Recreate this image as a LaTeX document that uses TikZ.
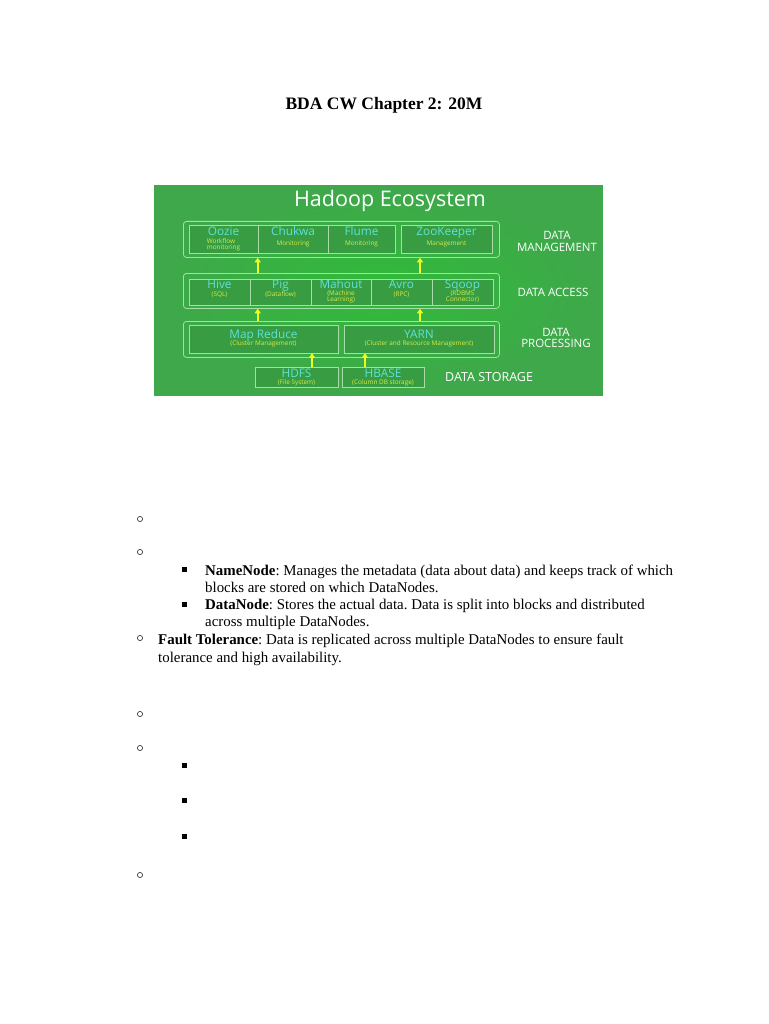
\documentclass[tikz,border=0pt]{standalone}
\usepackage{fontspec}
\setmainfont{Liberation Serif}
\newfontfamily\diagfont{Open Sans}
\usetikzlibrary{arrows.meta}
\definecolor{bggreen}{HTML}{3FA84B}
\definecolor{boxgreen}{HTML}{379C42}
\definecolor{edgegreen}{HTML}{A8DCA8}
\definecolor{namecyan}{HTML}{5FE3D6}
\definecolor{subyellow}{HTML}{DCEB45}
\definecolor{arrowyellow}{HTML}{F4FF1A}
\tikzset{
  outerbox/.style={draw=edgegreen, rounded corners=3pt, line width=0.8pt},
  innerbox/.style={draw=edgegreen, fill=boxgreen, line width=0.6pt, inner sep=0pt},
  nm/.style={text=namecyan, inner sep=0pt, anchor=base, font=\diagfont\fontsize{11.8}{12}\selectfont},
  sb/.style={text=subyellow, inner sep=0pt, align=center, font=\diagfont\fontsize{6.4}{5.8}\selectfont},
  yarrow/.style={draw=arrowyellow, line width=1.8pt, -{Triangle[width=6pt,length=4.5pt]}},
  layerlabel/.style={text=white, inner sep=0pt, font=\diagfont\fontsize{11.5}{11.5}\selectfont, align=center},
  body/.style={anchor=base west, inner sep=0pt, font=\frenchspacing\fontsize{14.9}{17}\selectfont},
  hollow/.style={draw=black!75, line width=0.7pt},
}
\begin{document}
\begin{tikzpicture}[x=1pt,y=-1pt]
\useasboundingbox (0,0) rectangle (768,1024);
\fill[white] (0,0) rectangle (768,1024);
% title
\node[font=\bfseries\fontsize{17.5}{20}\selectfont, anchor=base] (title) at (384,110) {BDA CW Chapter 2: 20M};
% green picture
\node[fill=bggreen, minimum width=449pt, minimum height=211pt, inner sep=0pt, anchor=north west] (pic) at (154,185) {};
\shade[inner color=green!45!bggreen, outer color=bggreen, opacity=0.5] (160,190) rectangle (598,390);
\node[text=white, font=\diagfont\fontsize{21.5}{24}\selectfont] (eco) at (390,201) {Hadoop Ecosystem};
% data management
\node[outerbox, minimum width=316pt, minimum height=36pt, anchor=north west] (mgmt) at (183,221) {};
\node[innerbox, minimum width=69pt, minimum height=28pt] (oozie) at (223.5,239) {};
\node[innerbox, minimum width=70pt, minimum height=28pt] (chukwa) at (293,239) {};
\node[innerbox, minimum width=67pt, minimum height=28pt] (flume) at (361.5,239) {};
\node[innerbox, minimum width=91pt, minimum height=28pt] (zoo) at (446.5,239) {};
\node[nm] (noozie) at ([yshift=3pt]oozie.center) {Oozie};
\node[sb, align=left] (soozie) at ([yshift=-5.5pt]oozie.center) {Workflow\\monitoring};
\node[nm] (nchukwa) at ([yshift=3pt]chukwa.center) {Chukwa};
\node[sb] (schukwa) at ([yshift=-4.5pt]chukwa.center) {Monitoring};
\node[nm] (nflume) at ([yshift=3pt]flume.center) {Flume};
\node[sb] (sflume) at ([yshift=-4.5pt]flume.center) {Monitoring};
\node[nm] (nzoo) at ([yshift=3pt]zoo.center) {ZooKeeper};
\node[sb] (szoo) at ([yshift=-4.5pt]zoo.center) {Management};
\node[layerlabel] (lmgmt) at (557,241.5) {DATA\\MANAGEMENT};
% data access
\node[outerbox, minimum width=316pt, minimum height=35pt, anchor=north west] (access) at (183,273) {};
\node[innerbox, minimum width=61pt, minimum height=26pt] (hive) at (219.5,292) {};
\node[innerbox, minimum width=61pt, minimum height=26pt] (pig) at (280.5,292) {};
\node[innerbox, minimum width=60pt, minimum height=26pt] (mahout) at (341,292) {};
\node[innerbox, minimum width=61pt, minimum height=26pt] (avro) at (401.5,292) {};
\node[innerbox, minimum width=61pt, minimum height=26pt] (sqoop) at (462.5,292) {};
\node[nm] (nhive) at ([yshift=4pt]hive.center) {Hive};
\node[sb] (shive) at ([yshift=-3pt]hive.center) {(SQL)};
\node[nm] (npig) at ([yshift=4pt]pig.center) {Pig};
\node[sb] (spig) at ([yshift=-3pt]pig.center) {(Dataflow)};
\node[nm] (nmahout) at ([yshift=4pt]mahout.center) {Mahout};
\node[sb] (smahout) at ([yshift=-5pt]mahout.center) {(Machine\\Learning)};
\node[nm] (navro) at ([yshift=4pt]avro.center) {Avro};
\node[sb] (savro) at ([yshift=-3pt]avro.center) {(RPC)};
\node[nm] (nsqoop) at ([yshift=4pt]sqoop.center) {Sqoop};
\node[sb] (ssqoop) at ([yshift=-5pt]sqoop.center) {(RDBMS\\Connector)};
\node[layerlabel] (laccess) at (553,292) {DATA ACCESS};
% data processing
\node[outerbox, minimum width=316pt, minimum height=36pt, anchor=north west] (proc) at (183,321) {};
\node[innerbox, minimum width=149pt, minimum height=28pt] (mapred) at (263.5,339) {};
\node[innerbox, minimum width=150pt, minimum height=28pt] (yarn) at (419,339) {};
\node[nm] (nmapred) at ([yshift=1pt]mapred.center) {Map Reduce};
\node[sb] (smapred) at ([yshift=-4.5pt]mapred.center) {(Cluster Management)};
\node[nm] (nyarn) at ([yshift=1pt]yarn.center) {YARN};
\node[sb] (syarn) at ([yshift=-4.5pt]yarn.center) {(Cluster and Resource Management)};
\node[layerlabel] (lproc) at (556,338) {DATA\\PROCESSING};
% data storage
\node[innerbox, minimum width=83pt, minimum height=20pt] (hdfs) at (296.5,377) {};
\node[innerbox, minimum width=82pt, minimum height=20pt] (hbase) at (383,377) {};
\node[nm] (nhdfs) at ([yshift=0pt]hdfs.center) {HDFS};
\node[sb] (shdfs) at ([yshift=-5.5pt]hdfs.center) {(File System)};
\node[nm] (nhbase) at ([yshift=0pt]hbase.center) {HBASE};
\node[sb] (shbase) at ([yshift=-5.5pt]hbase.center) {(Column DB storage)};
\node[layerlabel, anchor=west, font=\diagfont\fontsize{12.5}{13}\selectfont] (lstore) at (445,377) {DATA STORAGE};
% arrows
\draw[yarrow] (access.north -| chukwa.west) -- (mgmt.south -| chukwa.west);
\draw[yarrow] (access.north -| 420,0) -- (mgmt.south -| 420,0);
\draw[yarrow] (proc.north -| chukwa.west) -- (access.south -| chukwa.west);
\draw[yarrow] (proc.north -| 420,0) -- (access.south -| 420,0);
\draw[yarrow] (hdfs.north -| 312,0) -- (mapred.south -| 312,0);
\draw[yarrow] (hbase.north -| 365,0) -- (yarn.south -| 365,0);
% bullets
\draw[hollow] (140,519) circle (2.6);
\draw[hollow] (140,552) circle (2.6);
\draw[hollow] (140,638) circle (2.6);
\draw[hollow] (140,714) circle (2.6);
\draw[hollow] (140,748) circle (2.6);
\draw[hollow] (140,875) circle (2.6);
\fill (181.5,567) rectangle +(5,5);
\fill (181.5,601.5) rectangle +(5,5);
\fill (181.5,762.5) rectangle +(5,5);
\fill (181.5,798) rectangle +(5,5);
\fill (181.5,833.5) rectangle +(5,5);
% text
\node[body] (t1) at (205,575) {\textbf{NameNode}: Manages the metadata (data about data) and keeps track of which};
\node[body] (t2) at (205,592) {blocks are stored on which DataNodes.};
\node[body] (t3) at (205,609.5) {\textbf{DataNode}: Stores the actual data. Data is split into blocks and distributed};
\node[body] (t4) at (205,626.5) {across multiple DataNodes.};
\node[body] (t5) at (158,644) {\textbf{Fault Tolerance}: Data is replicated across multiple DataNodes to ensure fault};
\node[body] (t6) at (158,662) {tolerance and high availability.};
\end{tikzpicture}
\end{document}
